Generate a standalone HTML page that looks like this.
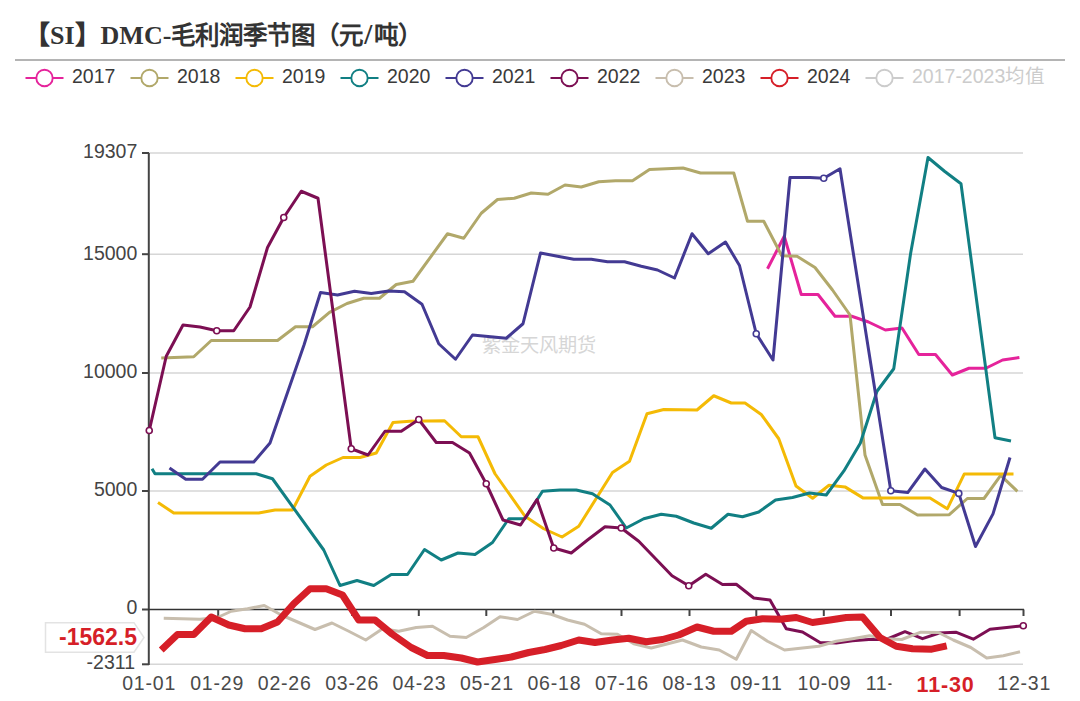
<!DOCTYPE html>
<html lang="zh-CN"><head><meta charset="utf-8">
<style>
html,body{margin:0;padding:0;background:#fff;width:1080px;height:701px;overflow:hidden}
svg{display:block}
text{font-family:"Liberation Sans",sans-serif}
</style></head><body>
<svg width="1080" height="701" viewBox="0 0 1080 701">
<text x="24" y="44" style="font-family:'Liberation Serif',serif" font-weight="bold" font-size="26" fill="#333">【SI】DMC-<tspan font-size="24.5">毛利润季节图（元</tspan><tspan font-size="29" dx="1">/</tspan><tspan font-size="24.5" dx="1.5">吨）</tspan></text>
<rect x="15" y="59" width="1050" height="2" fill="#b4b4b4"/>
<g font-size="19.5"><line x1="25.5" y1="78" x2="63.5" y2="78" stroke="#e5239b" stroke-width="2"/><circle cx="44.5" cy="78" r="8.2" fill="#fff" stroke="#e5239b" stroke-width="1.9"/><text x="72.0" y="83" fill="#3a3a3a">2017</text><line x1="130.5" y1="78" x2="168.5" y2="78" stroke="#b1a86a" stroke-width="2"/><circle cx="149.5" cy="78" r="8.2" fill="#fff" stroke="#b1a86a" stroke-width="1.9"/><text x="177.0" y="83" fill="#3a3a3a">2018</text><line x1="235.5" y1="78" x2="273.5" y2="78" stroke="#f4ba05" stroke-width="2"/><circle cx="254.5" cy="78" r="8.2" fill="#fff" stroke="#f4ba05" stroke-width="1.9"/><text x="282.0" y="83" fill="#3a3a3a">2019</text><line x1="340.5" y1="78" x2="378.5" y2="78" stroke="#117f83" stroke-width="2"/><circle cx="359.5" cy="78" r="8.2" fill="#fff" stroke="#117f83" stroke-width="1.9"/><text x="387.0" y="83" fill="#3a3a3a">2020</text><line x1="445.5" y1="78" x2="483.5" y2="78" stroke="#433a93" stroke-width="2"/><circle cx="464.5" cy="78" r="8.2" fill="#fff" stroke="#433a93" stroke-width="1.9"/><text x="492.0" y="83" fill="#3a3a3a">2021</text><line x1="550.5" y1="78" x2="588.5" y2="78" stroke="#7c0f53" stroke-width="2"/><circle cx="569.5" cy="78" r="8.2" fill="#fff" stroke="#7c0f53" stroke-width="1.9"/><text x="597.0" y="83" fill="#3a3a3a">2022</text><line x1="655.5" y1="78" x2="693.5" y2="78" stroke="#c8beae" stroke-width="2"/><circle cx="674.5" cy="78" r="8.2" fill="#fff" stroke="#c8beae" stroke-width="1.9"/><text x="702.0" y="83" fill="#3a3a3a">2023</text><line x1="760.5" y1="78" x2="798.5" y2="78" stroke="#d61f28" stroke-width="2"/><circle cx="779.5" cy="78" r="8.2" fill="#fff" stroke="#d61f28" stroke-width="1.9"/><text x="807.0" y="83" fill="#3a3a3a">2024</text><line x1="865.5" y1="78" x2="903.5" y2="78" stroke="#cccccc" stroke-width="2"/><circle cx="884.5" cy="78" r="8.2" fill="#fff" stroke="#cccccc" stroke-width="1.9"/><text x="912.0" y="83" fill="#cccccc">2017-2023均值</text></g>
<g stroke="#d6d6d6" stroke-width="1.5" fill="none">
<line x1="149" y1="153" x2="1023" y2="153"/>
<line x1="149" y1="254.2" x2="1023" y2="254.2"/>
<line x1="149" y1="373" x2="1023" y2="373"/>
<line x1="149" y1="491" x2="1023" y2="491"/>
<line x1="149" y1="664.3" x2="1023" y2="664.3"/>
</g>
<text x="481.5" y="352" font-size="19.2" fill="#d6d6d6">紫金天风期货</text>
<g stroke="#444" stroke-width="2" fill="none">
<line x1="148.8" y1="153" x2="148.8" y2="665"/>
<line x1="142" y1="153" x2="149" y2="153"/>
<line x1="142" y1="254.2" x2="149" y2="254.2"/>
<line x1="142" y1="373" x2="149" y2="373"/>
<line x1="142" y1="491" x2="149" y2="491"/>
<line x1="142" y1="609.5" x2="149" y2="609.5"/>
<line x1="142" y1="664.3" x2="149" y2="664.3"/>
<line x1="148" y1="609.5" x2="1024" y2="609.5" stroke="#333" stroke-width="1.7"/>
<path d="M218.2 609.5V616 M285.6 609.5V616 M352.1 609.5V616 M418.8 609.5V616 M486.3 609.5V616 M553.3 609.5V616 M621.5 609.5V616 M689.5 609.5V616 M756.3 609.5V616 M823.8 609.5V616 M891 609.5V616 M959.6 609.5V616 M1023.5 609.5V616"/>
</g>
<g font-size="19.5" fill="#444" text-anchor="end">
<text x="137.3" y="157.5">19307</text>
<text x="137.3" y="259.5">15000</text>
<text x="137.3" y="377.5">10000</text>
<text x="137.3" y="496">5000</text>
<text x="137.3" y="614">0</text>
<text x="135" y="668.7">-2311</text>
</g>
<g font-size="19.5" fill="#4a4a4a" text-anchor="middle" letter-spacing="0.8"><text x="149.1" y="689.5">01-01</text><text x="217.1" y="689.5">01-29</text><text x="284.7" y="689.5">02-26</text><text x="352.09999999999997" y="689.5">03-26</text><text x="419.4" y="689.5">04-23</text><text x="486.9" y="689.5">05-21</text><text x="554.4" y="689.5">06-18</text><text x="621.9" y="689.5">07-16</text><text x="689.4" y="689.5">08-13</text><text x="756.4" y="689.5">09-11</text><text x="824.4" y="689.5">10-09</text>
<text x="1024.2" y="689.5">12-31</text>
<text x="891.9" y="689.5" clip-path="url(#clip11)">11-06</text>
</g>
<defs><clipPath id="clip11"><rect x="850" y="660" width="41.5" height="41"/></clipPath></defs>
<text x="945.5" y="691.5" font-size="21.5" font-weight="bold" fill="#d61f28" text-anchor="middle" letter-spacing="0.8">11-30</text>
<polyline points="767.50,268.75 784.25,236.25 801.25,294.50 818.00,294.50 835.00,316.25 851.70,316.25 868.50,322.00 885.30,330.00 902.00,328.00 918.80,354.50 935.50,354.50 952.30,375.00 969.00,368.25 985.80,368.25 1002.60,360.00 1019.40,357.50" fill="none" stroke="#e5239b" stroke-width="3.0" stroke-linejoin="round" stroke-linecap="butt"/><polyline points="161.25,358.00 193.75,356.75 211.25,340.50 277.50,340.50 295.50,326.75 312.50,326.75 329.50,312.30 347.00,303.50 363.75,298.25 379.50,298.25 396.25,284.50 413.00,281.25 447.50,233.75 463.75,238.25 481.25,213.25 497.50,199.50 514.25,198.25 531.25,193.00 548.00,194.25 565.00,185.00 581.25,187.00 598.75,181.75 615.50,180.75 632.50,180.75 649.50,169.50 683.00,168.00 700.50,173.00 733.75,173.00 747.50,221.25 763.75,221.25 781.75,255.75 797.00,256.25 815.00,267.50 832.50,290.00 850.00,315.00 865.00,455.00 882.50,504.50 900.00,504.50 917.50,515.00 949.30,514.70 967.30,498.50 984.00,498.50 1000.70,475.40 1017.40,491.30" fill="none" stroke="#b1a86a" stroke-width="3.0" stroke-linejoin="round" stroke-linecap="butt"/><polyline points="158.00,502.50 173.75,513.00 258.75,513.00 275.00,510.00 292.50,510.00 310.00,476.25 326.25,465.00 343.00,457.50 360.00,457.50 376.25,453.00 393.00,422.50 410.00,421.25 444.50,420.75 461.25,436.75 478.00,436.75 495.00,473.75 525.00,516.25 543.75,528.75 562.00,537.00 578.75,526.25 612.50,472.50 629.50,461.25 647.00,413.75 663.75,409.50 697.00,410.00 713.75,395.75 731.25,403.00 745.00,403.00 761.25,414.50 778.75,438.75 796.00,486.00 812.60,498.30 829.00,485.30 845.00,486.90 862.90,497.90 930.00,498.00 947.30,508.80 964.20,474.10 1013.50,474.10" fill="none" stroke="#f4ba05" stroke-width="3.0" stroke-linejoin="round" stroke-linecap="butt"/><polyline points="152.00,468.75 155.00,473.75 256.25,473.75 272.50,478.75 323.75,550.00 340.00,585.50 357.00,580.50 373.75,585.50 391.25,574.50 407.50,574.50 424.50,549.50 441.25,560.00 458.00,553.00 475.00,554.50 492.50,542.50 508.75,518.75 525.00,518.75 542.50,491.25 560.00,490.00 576.25,490.00 592.50,493.75 610.00,505.00 626.25,528.00 643.75,518.75 661.25,514.25 676.25,516.25 693.75,523.00 711.25,528.25 728.00,514.25 742.50,516.75 758.75,512.00 775.50,500.00 792.50,497.50 809.50,493.00 826.25,495.00 843.90,470.90 860.30,443.30 877.00,391.25 893.75,368.75 910.60,253.50 928.00,157.50 944.50,171.25 961.00,183.75 995.00,437.75 1011.00,441.00" fill="none" stroke="#117f83" stroke-width="3.0" stroke-linejoin="round" stroke-linecap="butt"/><polyline points="169.50,468.00 185.75,479.25 202.50,479.25 220.00,462.00 253.75,462.00 270.00,443.00 304.00,345.00 320.50,292.50 337.50,295.00 354.50,291.25 371.25,293.50 388.75,291.00 404.50,291.75 422.00,304.25 438.75,343.75 455.50,359.25 472.50,335.00 506.25,338.25 523.00,323.75 540.50,253.00 557.50,256.25 573.75,259.25 591.25,259.25 607.50,261.75 624.50,261.75 641.25,266.25 657.50,270.00 674.50,278.00 692.00,233.75 708.25,253.75 725.50,242.00 739.50,265.50 756.25,333.75 773.00,360.00 790.00,177.50 810.00,177.50 823.75,178.25 840.00,168.75 890.80,490.80 907.70,492.60 924.90,469.00 941.60,487.50 958.80,493.40 975.50,546.50 993.00,513.90 1010.00,457.50" fill="none" stroke="#433a93" stroke-width="3.0" stroke-linejoin="round" stroke-linecap="butt"/><circle cx="756.25" cy="333.75" r="3.0" fill="#fff" stroke="#433a93" stroke-width="1.6"/><circle cx="823.75" cy="178.25" r="3.0" fill="#fff" stroke="#433a93" stroke-width="1.6"/><circle cx="890.8" cy="490.8" r="3.0" fill="#fff" stroke="#433a93" stroke-width="1.6"/><circle cx="958.8" cy="493.4" r="3.0" fill="#fff" stroke="#433a93" stroke-width="1.6"/><polyline points="149.25,430.50 166.25,356.25 183.00,325.00 200.00,327.00 216.75,330.75 233.75,330.75 250.00,307.00 267.50,247.50 283.75,217.50 301.25,191.25 318.00,198.25 351.25,448.75 368.00,455.00 385.00,431.25 401.25,431.25 418.75,419.50 436.25,442.50 452.50,442.50 469.50,453.00 486.25,483.75 503.00,520.00 520.50,525.00 537.00,499.50 553.75,548.00 571.25,553.00 587.50,540.00 605.00,526.75 621.25,528.00 638.75,541.25 672.00,575.75 688.75,585.75 705.75,574.25 722.50,584.50 736.25,584.25 753.75,598.00 770.00,600.00 786.25,628.75 802.50,632.00 820.00,642.50 836.25,643.00 852.50,640.75 868.75,639.50 886.25,639.50 905.00,631.70 922.50,638.70 939.20,633.00 955.80,632.20 973.30,639.20 990.00,629.20 1006.70,627.50 1023.30,625.80" fill="none" stroke="#7c0f53" stroke-width="3.0" stroke-linejoin="round" stroke-linecap="butt"/><circle cx="149.25" cy="430.5" r="3.0" fill="#fff" stroke="#7c0f53" stroke-width="1.6"/><circle cx="216.75" cy="330.75" r="3.0" fill="#fff" stroke="#7c0f53" stroke-width="1.6"/><circle cx="283.75" cy="217.5" r="3.0" fill="#fff" stroke="#7c0f53" stroke-width="1.6"/><circle cx="351.25" cy="448.75" r="3.0" fill="#fff" stroke="#7c0f53" stroke-width="1.6"/><circle cx="418.75" cy="419.5" r="3.0" fill="#fff" stroke="#7c0f53" stroke-width="1.6"/><circle cx="486.25" cy="483.75" r="3.0" fill="#fff" stroke="#7c0f53" stroke-width="1.6"/><circle cx="553.75" cy="548" r="3.0" fill="#fff" stroke="#7c0f53" stroke-width="1.6"/><circle cx="621.25" cy="528" r="3.0" fill="#fff" stroke="#7c0f53" stroke-width="1.6"/><circle cx="688.75" cy="585.75" r="3.0" fill="#fff" stroke="#7c0f53" stroke-width="1.6"/><circle cx="1023.3" cy="625.8" r="3.0" fill="#fff" stroke="#7c0f53" stroke-width="1.6"/><polyline points="163.75,618.25 200.00,619.25 217.50,617.50 231.25,611.25 247.50,608.75 264.25,605.50 281.25,615.00 298.75,622.50 315.00,629.50 332.00,623.00 348.75,631.25 365.75,640.00 382.50,628.75 398.75,631.25 416.25,627.50 432.50,626.25 450.00,636.25 466.25,637.50 483.75,627.50 500.00,616.75 517.50,619.50 534.50,611.25 551.25,614.25 567.50,620.00 584.50,624.25 601.25,633.75 617.50,634.25 633.75,643.75 651.25,648.00 682.50,640.00 701.25,647.00 719.25,650.00 736.25,659.25 751.25,630.50 767.50,641.25 784.50,650.00 802.50,648.00 818.75,646.25 836.25,641.25 852.50,638.75 869.50,635.75 886.25,638.75 901.70,639.50 920.80,632.20 938.30,632.50 953.30,640.00 970.80,647.50 986.70,658.00 1003.30,655.80 1020.00,651.70" fill="none" stroke="#c8beae" stroke-width="3.0" stroke-linejoin="round" stroke-linecap="butt"/><polyline points="161.25,650.00 177.50,634.50 193.75,634.50 211.25,617.00 228.75,625.00 245.00,628.75 261.25,628.75 277.50,622.00 293.75,603.75 310.00,588.75 326.25,588.75 342.50,595.00 358.75,620.00 375.00,620.00 392.00,634.00 411.25,647.50 427.50,655.50 443.75,655.50 461.25,658.00 477.50,662.00 495.00,659.50 511.25,657.00 528.75,652.50 545.00,649.50 561.25,645.50 578.75,640.00 595.00,642.50 612.50,640.00 628.75,638.25 646.25,641.75 662.50,639.50 678.75,635.00 697.00,627.00 713.75,631.25 731.25,631.25 746.25,621.25 762.50,618.75 780.00,619.25 796.25,617.50 812.50,622.50 830.00,620.00 846.25,617.50 862.50,617.00 880.00,637.50 896.25,646.25 912.50,648.75 931.70,649.20 946.70,645.80" fill="none" stroke="#d61f28" stroke-width="7" stroke-linejoin="round" stroke-linecap="butt"/>
<path d="M45.5 622.7H134L144 637.5L134 652.2H45.5Z" fill="#fff" stroke="#e3e3e3" stroke-width="1.5"/>
<text x="137" y="645" font-size="23" font-weight="bold" fill="#d61f28" text-anchor="end">-1562.5</text>
</svg>
</body></html>
